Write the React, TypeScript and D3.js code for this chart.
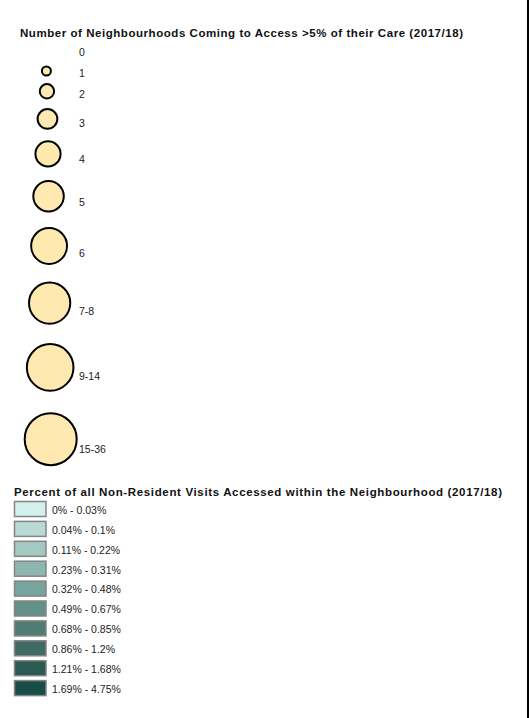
import * as d3 from "d3";

// size legend classes (number of neighbourhoods)
const sizeClasses = ["0", "1", "2", "3", "4", "5", "6", "7-8", "9-14", "15-36"];
const sizeRank = [0, 1, 2, 3, 4, 5, 6, 7, 8, 9];

// choropleth classes (percent of non-resident visits)
const colorClasses = [
  "0% - 0.03%",
  "0.04% - 0.1%",
  "0.11% - 0.22%",
  "0.23% - 0.31%",
  "0.32% - 0.48%",
  "0.49% - 0.67%",
  "0.68% - 0.85%",
  "0.86% - 1.2%",
  "1.21% - 1.68%",
  "1.69% - 4.75%",
];
const colorSwatches = [
  "#d4f0eb",
  "#badbd5",
  "#a3c9c2",
  "#8db6b0",
  "#76a59d",
  "#63918a",
  "#4f7c74",
  "#3e6c64",
  "#2a5a52",
  "#174d46",
];

const W = 529;
const H = 718;
const FONT = "Arial, 'Liberation Sans', sans-serif";

export default function App() {
  // circle radius from class rank
  const rScale = d3.scaleLinear().domain([1, 9]).range([4.5, 26]);
  const radii = sizeRank.map((k) => (k === 0 ? 0 : rScale(k)));

  // stack the circles downward, gap grows with size
  const cy: number[] = [];
  sizeRank.forEach((k, i) => {
    if (i === 0) cy.push(52);
    else if (i === 1) cy.push(71);
    else cy.push(cy[i - 1] + 4.3 + 1.368 * (radii[i - 1] + radii[i]));
  });
  const cx = (r: number) => 45.5 + r * 0.2;

  // colour legend rows
  const yBand = d3
    .scaleBand<string>()
    .domain(colorClasses)
    .range([501.5, 501.5 + 19.9 * colorClasses.length]);
  const color = d3.scaleOrdinal<string, string>().domain(colorClasses).range(colorSwatches);

  return (
    <svg
      width={W}
      height={H}
      style={{ position: "absolute", left: 0, top: 0, display: "block", background: "#fff" }}
      fontFamily={FONT}
    >
      <rect x={0} y={0} width={W} height={H} fill="#fff" />

      <text
        x={20}
        y={36.5}
        fontSize={11.5}
        fontWeight="bold"
        fill="#111"
        textLength={443}
        lengthAdjust="spacing"
      >
        Number of Neighbourhoods Coming to Access &gt;5% of their Care (2017/18)
      </text>

      {sizeClasses.map((label, i) => {
        const r = radii[i];
        return (
          <g key={label}>
            {r > 0 && (
              <circle cx={cx(r)} cy={cy[i]} r={r} fill="#fee9b1" stroke="#000" strokeWidth={2} />
            )}
            <text x={79} y={cy[i] + 0.4 * r + 3.7} fontSize={10.5} fill="#222">
              {label}
            </text>
          </g>
        );
      })}

      <text
        x={14}
        y={496}
        fontSize={11.5}
        fontWeight="bold"
        fill="#111"
        textLength={488}
        lengthAdjust="spacing"
      >
        Percent of all Non-Resident Visits Accessed within the Neighbourhood (2017/18)
      </text>

      {colorClasses.map((label) => {
        const y = yBand(label) as number;
        return (
          <g key={label}>
            <rect
              x={14.5}
              y={y}
              width={31.5}
              height={15}
              fill={color(label)}
              stroke="#858585"
              strokeWidth={1.5}
            />
            <text x={52} y={y + 12.3} fontSize={10.5} fill="#222">
              {label}
            </text>
          </g>
        );
      })}

      <rect x={527} y={0} width={2} height={H} fill="#000" />
    </svg>
  );
}
